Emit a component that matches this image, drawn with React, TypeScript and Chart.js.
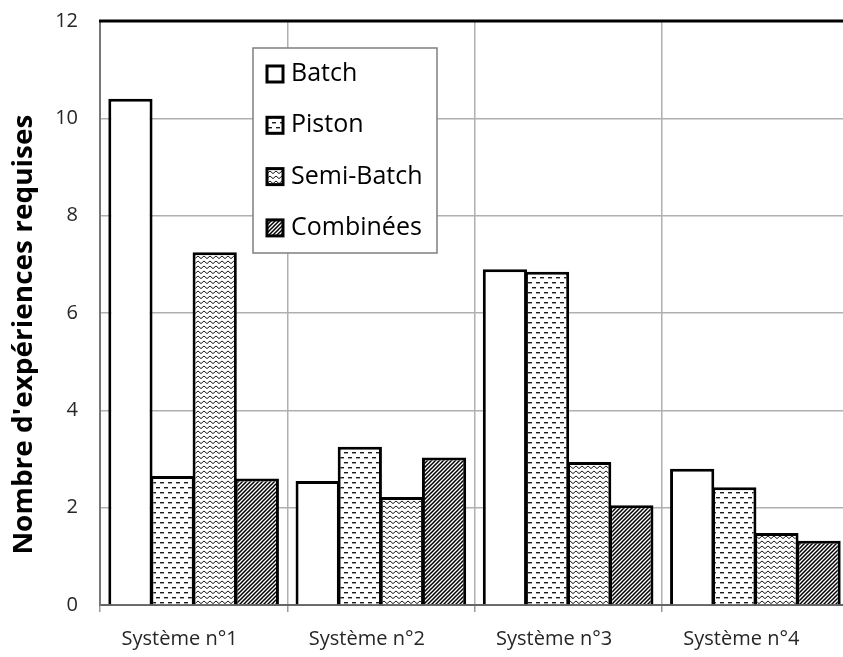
import React, { useEffect, useRef } from "react";
import { Chart, registerables } from "chart.js";

Chart.register(...registerables);

const categories = ["Système n°1", "Système n°2", "Système n°3", "Système n°4"];
const seriesNames = ["Batch", "Piston", "Semi-Batch", "Combinées"];
const batchValues = [10.4, 2.55, 6.9, 2.8];
const pistonValues = [2.65, 3.25, 6.85, 2.42];
const semiBatchValues = [7.25, 2.22, 2.94, 1.48];
const combineesValues = [2.6, 3.03, 2.05, 1.32];
const yMin = 0;
const yMax = 12;
const yStep = 2;
const yTitle = "Nombre d'expériences requises";

const FONT = "'Open Sans', Lato, sans-serif";

function makePattern(kind: string): CanvasPattern | string {
  if (kind === "none") return "#ffffff";
  const c = document.createElement("canvas");
  const ctx = c.getContext("2d")!;
  if (kind === "dash") {
    c.width = 8;
    c.height = 10;
    ctx.fillStyle = "#fff";
    ctx.fillRect(0, 0, 8, 10);
    ctx.fillStyle = "#1a1a1a";
    ctx.fillRect(0, 2, 4, 1.4);
    ctx.fillRect(4, 7, 4, 1.4);
  } else if (kind === "wave") {
    c.width = 6;
    c.height = 5;
    ctx.fillStyle = "#fff";
    ctx.fillRect(0, 0, 6, 5);
    ctx.strokeStyle = "#1a1a1a";
    ctx.lineWidth = 1;
    ctx.beginPath();
    ctx.moveTo(0, 1);
    ctx.lineTo(3, 3.6);
    ctx.lineTo(6, 1);
    ctx.stroke();
  } else if (kind === "diag") {
    c.width = 4;
    c.height = 4;
    ctx.fillStyle = "#fff";
    ctx.fillRect(0, 0, 4, 4);
    ctx.strokeStyle = "#000";
    ctx.lineWidth = 1.5;
    ctx.beginPath();
    ctx.moveTo(-1, 5);
    ctx.lineTo(5, -1);
    ctx.moveTo(-3, 3);
    ctx.lineTo(3, -3);
    ctx.moveTo(1, 7);
    ctx.lineTo(7, 1);
    ctx.stroke();
  }
  return ctx.createPattern(c, "repeat")!;
}

const frameLegendPlugin = {
  id: "frameLegend",
  afterDraw(chart: any) {
    const { ctx, chartArea } = chart;
    ctx.save();
    // top frame line
    ctx.strokeStyle = "#000";
    ctx.lineWidth = 3;
    ctx.beginPath();
    ctx.moveTo(chartArea.left - 1, chartArea.top);
    ctx.lineTo(chartArea.right, chartArea.top);
    ctx.stroke();

    // legend box
    const bx = chartArea.left + 153;
    const by = chartArea.top + 27;
    const bw = 184;
    const bh = 205;
    ctx.fillStyle = "#fff";
    ctx.fillRect(bx, by, bw, bh);
    ctx.strokeStyle = "#7f7f7f";
    ctx.lineWidth = 1.5;
    ctx.strokeRect(bx, by, bw, bh);

    ctx.font = `25px ${FONT}`;
    ctx.textBaseline = "middle";
    ctx.textAlign = "left";
    chart.data.datasets.forEach((ds: any, i: number) => {
      const cy = by + 26 + i * 51.3;
      const mx = bx + 14;
      const ms = 16;
      ctx.fillStyle = ds.backgroundColor;
      ctx.fillRect(mx, cy - ms / 2, ms, ms);
      ctx.strokeStyle = "#000";
      ctx.lineWidth = 3;
      ctx.strokeRect(mx, cy - ms / 2, ms, ms);
      ctx.fillStyle = "#000";
      ctx.fillText(ds.label, bx + 38, cy);
    });

    // y axis title
    ctx.save();
    ctx.translate(chartArea.left - 75, chartArea.top + (chartArea.bottom - chartArea.top) * 0.537);
    ctx.rotate(-Math.PI / 2);
    ctx.font = `bold 26px ${FONT}`;
    const w = ctx.measureText(yTitle).width;
    const k = 440 / w;
    ctx.scale(k, 1);
    ctx.fillStyle = "#000";
    ctx.textAlign = "center";
    ctx.textBaseline = "middle";
    ctx.fillText(yTitle, 0, 0);
    ctx.restore();
    ctx.restore();
  },
};

export default function App() {
  const ref = useRef<HTMLCanvasElement | null>(null);
  useEffect(() => {
    if (!ref.current) return;
    const kinds = ["none", "dash", "wave", "diag"];
    const values = [batchValues, pistonValues, semiBatchValues, combineesValues];
    const chart = new Chart(ref.current, {
      type: "bar",
      data: {
        labels: categories,
        datasets: seriesNames.map((name, i) => ({
          label: name,
          data: values[i],
          backgroundColor: makePattern(kinds[i]) as any,
          borderColor: "#000",
          borderWidth: 3,
          categoryPercentage: 0.9,
          barPercentage: 1.05,
        })),
      },
      options: {
        animation: false,
        responsive: true,
        maintainAspectRatio: false,
        layout: { padding: { top: 21, right: 11, left: 0, bottom: 0 } },
        plugins: { legend: { display: false }, tooltip: { enabled: false } },
        scales: {
          x: {
            grid: {
              offset: true,
              color: "#b0b0b0",
              lineWidth: 1.5,
              drawTicks: true,
              tickLength: 7,
              tickColor: "#9a9a9a",
            },
            border: { color: "#666", width: 2 },
            ticks: {
              color: "#262626",
              font: { family: FONT, size: 20 },
              padding: 15,
              labelOffset: -14,
            },
            afterFit: (s: any) => {
              s.height = 52;
            },
          },
          y: {
            min: yMin,
            max: yMax,
            ticks: {
              stepSize: yStep,
              color: "#262626",
              font: { family: FONT, size: 20 },
              padding: 0,
            },
            grid: {
              color: "#b0b0b0",
              lineWidth: 1.5,
              drawTicks: true,
              tickLength: 22,
              tickColor: "rgba(0,0,0,0)",
            },
            border: { color: "#777", width: 2 },
            afterFit: (s: any) => {
              s.width = 100;
            },
          },
        },
      },
      plugins: [frameLegendPlugin],
    });
    return () => chart.destroy();
  }, []);
  return (
    <div style={{ position: "fixed", left: 0, top: 0, width: 860, height: 657, background: "#fff" }}>
      <canvas ref={ref} />
    </div>
  );
}
